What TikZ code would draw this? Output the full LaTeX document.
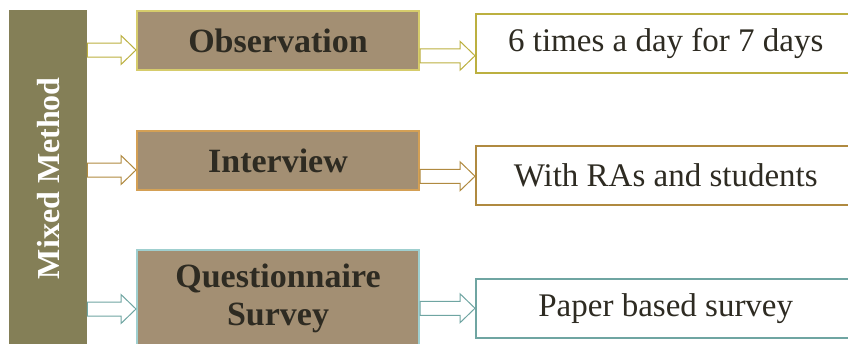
\documentclass[tikz,border=0pt]{standalone}
\usepackage{fontspec}
\setmainfont{Liberation Serif}
\usetikzlibrary{calc}
\definecolor{mbar}{HTML}{847F57}
\definecolor{mfill}{HTML}{A38F73}
\definecolor{mtext}{HTML}{2E2B22}
\definecolor{myellow}{HTML}{D6CC6C}
\definecolor{morange}{HTML}{D4A055}
\definecolor{mteal}{HTML}{9FCFCF}
\definecolor{dyellow}{HTML}{BCB040}
\definecolor{dorange}{HTML}{B08A40}
\definecolor{dteal}{HTML}{6FA5A2}

\tikzset{
  methodbox/.style={draw=#1, fill=mfill, line width=2pt, inner sep=0pt,
    minimum width=282pt, minimum height=59pt, anchor=north west, text=mtext,
    align=center, font=\fontsize{34}{38}\selectfont\bfseries},
  detailbox/.style={draw=#1, fill=white, line width=1.5pt, inner sep=0pt,
    minimum width=380pt, minimum height=59pt, anchor=north west, text=mtext,
    font=\fontsize{33}{38}\selectfont},
  arrowline/.style={draw=#1, fill=white, line width=1pt, line join=miter}
}

% #1 colour, #2 start node, #3 end node, #4 drop below the end node's centre
\newcommand{\blockarrow}[4]{%
  \path[arrowline=#1] let \p1=(#2.east), \p2=($(#3.west)+(0,#4)$) in
    (\x1,\y2+7pt) -- (\x2-15pt,\y2+7pt) -- (\x2-15pt,\y2+14.5pt) -- (\x2,\y2)
    -- (\x2-15pt,\y2-14.5pt) -- (\x2-15pt,\y2-7pt) -- (\x1,\y2-7pt) -- cycle;}

\begin{document}
\begin{tikzpicture}[x=1pt, y=-1pt]
  \clip (0,0) rectangle (848,343);

  % the method bar
  \node [fill=mbar, inner sep=0pt, minimum width=78pt, minimum height=340pt,
    anchor=north west] (bar) at (9,10) {};
  \node [rotate=90, text=white, font=\fontsize{32}{36}\selectfont\bfseries]
    (barlabel) at ($(bar.center)+(0,-2)$) {Mixed Method};

  % methods
  \node [methodbox=myellow] (obs) at (136,10) {Observation};
  \node [methodbox=morange] (int) at (136,130) {Interview};
  \node [methodbox=mteal, minimum height=96pt] (que) at (136,249)
    {Questionnaire\\Survey};

  % details
  \node [detailbox=dyellow] (obsd) at (475,13) {6 times a day for 7 days};
  \node [detailbox=dorange] (intd) at (475,145) {With RAs and students};
  \node [detailbox=dteal] (qued) at (475,278) {Paper based survey};

  % arrows
  \blockarrow{dyellow}{bar}{obs}{9.5}
  \blockarrow{dorange}{bar}{int}{9.5}
  \blockarrow{dteal}{bar}{que}{11}

  \blockarrow{dyellow}{obs}{obsd}{12.5}
  \blockarrow{dorange}{int}{intd}{1}
  \blockarrow{dteal}{que}{qued}{0}
\end{tikzpicture}
\end{document}
